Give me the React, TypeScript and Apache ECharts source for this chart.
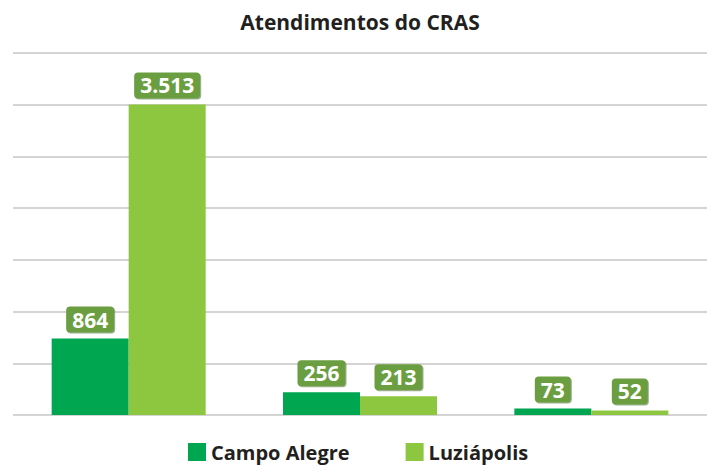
import React, { useEffect, useRef } from "react";
import * as echarts from "echarts";

const chartTitle = "Atendimentos do CRAS";
const categories = ["Grupo 1", "Grupo 2", "Grupo 3"];
const seriesNames = ["Campo Alegre", "Luziápolis"];
const campoAlegre = [864, 256, 73];
const luziapolis = [3513, 213, 52];
const axisMax = 4095;
const axisInterval = 585;

const FONT = "'Open Sans', 'Noto Sans', sans-serif";

function formatPt(v: number): string {
  return v.toLocaleString("pt-BR");
}

export default function App() {
  const ref = useRef<HTMLDivElement>(null);
  useEffect(() => {
    if (!ref.current) return;
    const chart = echarts.init(ref.current, undefined, { renderer: "svg" });
    const label = {
      show: true,
      position: "top" as const,
      distance: 6,
      formatter: (p: any) => formatPt(p.value),
      color: "#ffffff",
      fontFamily: FONT,
      fontWeight: "bold" as const,
      fontSize: 21,
      lineHeight: 22,
      backgroundColor: "#6b9e40",
      borderRadius: 4,
      padding: [2, 6, 2, 6],
      shadowColor: "rgba(40,70,20,0.45)",
      shadowOffsetX: 1,
      shadowOffsetY: 1,
      shadowBlur: 1,
    };
    chart.setOption({
      animation: false,
      backgroundColor: "#ffffff",
      title: {
        text: chartTitle,
        left: 360,
        textAlign: "center",
        top: 10,
        padding: 0,
        textStyle: {
          fontFamily: FONT,
          fontWeight: "bold",
          fontSize: 21,
          lineHeight: 24,
          color: "#231f20",
        },
      },
      legend: {
        data: seriesNames,
        left: 188,
        top: 441,
        padding: 0,
        itemWidth: 18,
        itemHeight: 18,
        itemGap: 56,
        icon: "rect",
        textStyle: {
          fontFamily: FONT,
          fontWeight: "bold",
          fontSize: 20,
          lineHeight: 22,
          color: "#231f20",
        },
      },
      grid: { left: 13, right: 2, top: 53, bottom: 53 },
      xAxis: {
        type: "category",
        data: categories,
        axisLine: { show: false },
        axisTick: { show: false },
        axisLabel: { show: false },
      },
      yAxis: {
        type: "value",
        min: 0,
        max: axisMax,
        interval: axisInterval,
        axisLabel: { show: false },
        axisLine: { show: false },
        axisTick: { show: false },
        splitLine: { lineStyle: { color: "#c6c6c6", width: 1.5 } },
      },
      series: [
        {
          name: seriesNames[0],
          type: "bar",
          data: campoAlegre,
          barWidth: 77,
          barGap: "0%",
          itemStyle: { color: "#00a650" },
          label,
        },
        {
          name: seriesNames[1],
          type: "bar",
          data: luziapolis,
          barWidth: 77,
          barGap: "0%",
          itemStyle: { color: "#8dc63f" },
          label,
        },
      ],
    });
    return () => chart.dispose();
  }, []);
  return (
    <div
      ref={ref}
      style={{ position: "fixed", left: 0, top: 0, width: 709, height: 468 }}
    />
  );
}
